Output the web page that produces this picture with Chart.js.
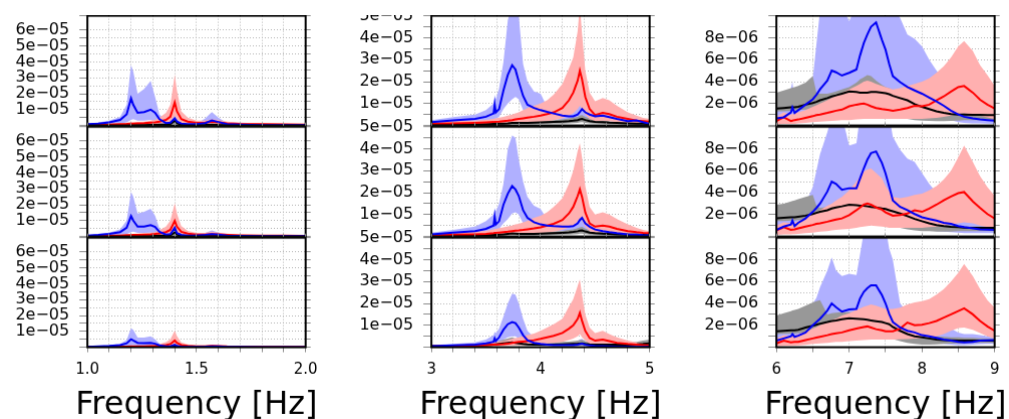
<!DOCTYPE html>
<html>
<head>
<meta charset="utf-8">
<script src="https://cdn.jsdelivr.net/npm/chart.js"></script>
<style>
  html, body { margin: 0; padding: 0; background: #fff; }
  #fig { position: absolute; left: 0; top: 15px; width: 1009px; height: 404px; overflow: hidden; }
  #fig canvas { position: absolute; }
</style>
</head>
<body>
<div id="fig"></div>
<script>
// ---- frequency samples [Hz] for each column ----
const F1 = [1.0, 1.05, 1.1, 1.15, 1.18, 1.2, 1.21, 1.23, 1.26, 1.29, 1.31, 1.33, 1.36, 1.38, 1.4, 1.41, 1.43, 1.46, 1.5, 1.54, 1.57, 1.6, 1.64, 1.7, 1.8, 1.9, 2.0];
const F2 = [3.0, 3.2, 3.4, 3.5, 3.57, 3.58, 3.59, 3.62, 3.66, 3.7, 3.74, 3.77, 3.8, 3.84, 3.88, 3.94, 4.0, 4.06, 4.12, 4.2, 4.26, 4.3, 4.34, 4.36, 4.38, 4.41, 4.45, 4.5, 4.57, 4.63, 4.7, 4.8, 4.88, 4.94, 5.0];
const F3 = [6.0, 6.1, 6.2, 6.22, 6.25, 6.3, 6.4, 6.5, 6.55, 6.6, 6.7, 6.76, 6.82, 6.9, 7.0, 7.1, 7.15, 7.2, 7.25, 7.3, 7.37, 7.45, 7.5, 7.55, 7.6, 7.7, 7.8, 7.9, 8.0, 8.1, 8.2, 8.3, 8.4, 8.5, 8.58, 8.7, 8.8, 8.9, 9.0];

// ---- tick labels ----
const X_LABELS_1 = [1.0, 1.5, 2.0];
const X_LABELS_2 = [3, 4, 5];
const X_LABELS_3 = [6, 7, 8, 9];
const Y_LABELS_1 = [1, 2, 3, 4, 5, 6];   // x 1e-05
const Y_LABELS_2 = [1, 2, 3, 4, 5];      // x 1e-05
const Y_LABELS_3 = [2, 4, 6, 8];         // x 1e-06
const X_TITLE = 'Frequency [Hz]';

// ---- column 1 (values in 1e-05) ----
const C1R1_BLUE    = [0.08,0.12,0.2,0.35,0.7,1.7,1.3,0.8,0.85,1.0,0.8,0.4,0.15,0.18,0.45,0.25,0.12,0.08,0.08,0.15,0.32,0.22,0.08,0.05,0.03,0.03,0.03];
const C1R1_BLUE_HI = [0.12,0.2,0.3,0.55,1.3,3.8,3.4,2.0,2.3,2.8,1.8,0.7,0.25,0.3,0.8,0.45,0.2,0.12,0.12,0.45,0.85,0.5,0.15,0.08,0.05,0.05,0.05];
const C1R1_BLUE_LO = [0.03,0.05,0.08,0.12,0.2,0.35,0.4,0.3,0.3,0.35,0.25,0.12,0.05,0.05,0.12,0.08,0.04,0.03,0.03,0.05,0.1,0.08,0.03,0.02,0.01,0.01,0.01];
const C1R1_RED     = [0.04,0.05,0.06,0.08,0.1,0.12,0.12,0.13,0.15,0.18,0.2,0.25,0.35,0.55,1.45,0.9,0.4,0.25,0.17,0.18,0.25,0.2,0.14,0.1,0.08,0.07,0.06];
const C1R1_RED_HI  = [0.08,0.1,0.12,0.15,0.18,0.2,0.2,0.22,0.25,0.3,0.35,0.5,0.8,1.3,3.2,2.2,0.9,0.5,0.3,0.3,0.4,0.35,0.25,0.18,0.14,0.12,0.1];
const C1R1_RED_LO  = [0.01,0.02,0.02,0.03,0.04,0.05,0.05,0.05,0.06,0.07,0.08,0.1,0.15,0.25,0.6,0.4,0.18,0.1,0.07,0.08,0.1,0.08,0.06,0.04,0.03,0.03,0.02];
const C1R1_BLACK   = [0.01,0.01,0.02,0.02,0.02,0.03,0.03,0.03,0.03,0.04,0.04,0.05,0.06,0.1,0.3,0.15,0.06,0.04,0.03,0.04,0.06,0.04,0.03,0.02,0.02,0.01,0.01];
const C1R1_GRAY_HI = [0.02,0.02,0.03,0.04,0.04,0.05,0.05,0.05,0.05,0.06,0.07,0.08,0.1,0.18,0.55,0.3,0.1,0.06,0.05,0.06,0.1,0.07,0.05,0.04,0.03,0.02,0.02];
const C1R1_GRAY_LO = [0,0,0.01,0.01,0.01,0.01,0.01,0.01,0.01,0.02,0.02,0.02,0.03,0.05,0.12,0.06,0.03,0.02,0.01,0.02,0.03,0.02,0.01,0.01,0.01,0,0];

const C1R2_BLUE    = [0.06,0.1,0.16,0.28,0.55,1.28,1.0,0.62,0.62,0.72,0.6,0.3,0.12,0.15,0.55,0.22,0.1,0.06,0.06,0.1,0.15,0.12,0.06,0.04,0.03,0.02,0.02];
const C1R2_BLUE_HI = [0.1,0.16,0.25,0.45,1.0,2.8,2.5,1.45,1.55,1.75,1.3,0.5,0.2,0.25,0.85,0.4,0.16,0.1,0.1,0.22,0.38,0.25,0.1,0.06,0.04,0.04,0.04];
const C1R2_BLUE_LO = [0.02,0.04,0.06,0.1,0.15,0.28,0.3,0.22,0.22,0.25,0.2,0.1,0.04,0.04,0.15,0.06,0.03,0.02,0.02,0.03,0.05,0.04,0.02,0.01,0.01,0.01,0.01];
const C1R2_RED     = [0.03,0.04,0.05,0.06,0.08,0.09,0.1,0.1,0.12,0.14,0.16,0.2,0.28,0.42,0.98,0.62,0.3,0.18,0.12,0.12,0.15,0.13,0.1,0.07,0.05,0.05,0.04];
const C1R2_RED_HI  = [0.06,0.08,0.1,0.12,0.14,0.16,0.16,0.18,0.2,0.24,0.28,0.4,0.62,1.0,2.1,1.45,0.65,0.35,0.22,0.22,0.3,0.25,0.18,0.12,0.1,0.08,0.07];
const C1R2_RED_LO  = [0.01,0.01,0.02,0.02,0.03,0.03,0.04,0.04,0.05,0.05,0.06,0.08,0.12,0.18,0.4,0.26,0.12,0.07,0.05,0.05,0.06,0.05,0.04,0.03,0.02,0.02,0.02];
const C1R2_BLACK   = [0.01,0.01,0.02,0.02,0.02,0.02,0.03,0.03,0.03,0.03,0.04,0.05,0.05,0.08,0.25,0.12,0.05,0.03,0.03,0.03,0.05,0.04,0.03,0.02,0.01,0.01,0.01];
const C1R2_GRAY_HI = [0.02,0.02,0.03,0.03,0.04,0.04,0.05,0.05,0.05,0.05,0.06,0.07,0.08,0.14,0.45,0.22,0.08,0.05,0.05,0.05,0.08,0.06,0.05,0.03,0.02,0.02,0.02];
const C1R2_GRAY_LO = [0,0,0.01,0.01,0.01,0.01,0.01,0.01,0.01,0.01,0.02,0.02,0.02,0.04,0.1,0.05,0.02,0.01,0.01,0.01,0.02,0.02,0.01,0.01,0,0,0];

const C1R3_BLUE    = [0.03,0.05,0.08,0.14,0.25,0.5,0.42,0.28,0.26,0.28,0.22,0.12,0.05,0.06,0.16,0.08,0.04,0.03,0.03,0.04,0.06,0.05,0.03,0.02,0.01,0.01,0.01];
const C1R3_BLUE_HI = [0.05,0.08,0.12,0.22,0.45,1.2,1.1,0.6,0.6,0.68,0.5,0.22,0.08,0.1,0.3,0.15,0.06,0.05,0.05,0.08,0.14,0.1,0.05,0.03,0.02,0.02,0.02];
const C1R3_BLUE_LO = [0.01,0.02,0.03,0.05,0.08,0.12,0.14,0.1,0.1,0.1,0.08,0.04,0.02,0.02,0.05,0.03,0.01,0.01,0.01,0.01,0.02,0.02,0.01,0.01,0,0,0];
const C1R3_RED     = [0.02,0.02,0.03,0.03,0.04,0.05,0.05,0.05,0.06,0.07,0.08,0.1,0.14,0.2,0.42,0.28,0.14,0.09,0.06,0.06,0.08,0.07,0.05,0.04,0.03,0.03,0.02];
const C1R3_RED_HI  = [0.04,0.05,0.06,0.07,0.08,0.09,0.09,0.1,0.11,0.13,0.15,0.2,0.32,0.5,1.05,0.7,0.3,0.18,0.12,0.12,0.16,0.14,0.1,0.07,0.06,0.05,0.04];
const C1R3_RED_LO  = [0.01,0.01,0.01,0.01,0.02,0.02,0.02,0.02,0.02,0.03,0.03,0.04,0.06,0.08,0.18,0.12,0.06,0.04,0.03,0.03,0.03,0.03,0.02,0.02,0.01,0.01,0.01];
const C1R3_BLACK   = [0.01,0.01,0.01,0.01,0.01,0.02,0.02,0.02,0.02,0.02,0.02,0.03,0.03,0.04,0.1,0.06,0.03,0.02,0.02,0.02,0.02,0.02,0.01,0.01,0.01,0.01,0.01];
const C1R3_GRAY_HI = [0.01,0.02,0.02,0.02,0.02,0.03,0.03,0.03,0.03,0.03,0.03,0.04,0.05,0.07,0.2,0.1,0.05,0.03,0.03,0.03,0.04,0.03,0.02,0.02,0.02,0.02,0.01];
const C1R3_GRAY_LO = [0,0,0,0,0,0.01,0.01,0.01,0.01,0.01,0.01,0.01,0.01,0.02,0.04,0.02,0.01,0.01,0.01,0.01,0.01,0.01,0,0,0,0,0];

// ---- column 2 (values in 1e-05) ----
const C2R1_BLUE    = [0.15,0.23,0.3,0.4,0.55,0.95,0.6,0.75,1.6,2.3,2.75,2.55,2.0,1.35,0.95,0.8,0.7,0.62,0.55,0.45,0.42,0.42,0.5,0.62,0.75,0.6,0.5,0.42,0.45,0.38,0.3,0.2,0.23,0.15,0.08];
const C2R1_BLUE_HI = [0.25,0.38,0.5,0.7,1.0,1.4,1.2,1.7,2.9,4.8,5.5,5.5,5.0,2.8,2.0,1.55,1.45,0.85,0.7,0.6,0.55,0.58,0.9,1.25,1.1,0.75,0.62,0.55,0.6,0.5,0.4,0.3,0.32,0.2,0.15];
const C2R1_BLUE_LO = [0.05,0.1,0.15,0.2,0.25,0.3,0.3,0.4,0.75,1.0,1.2,1.3,1.2,0.7,0.5,0.45,0.4,0.35,0.3,0.25,0.25,0.25,0.3,0.35,0.4,0.35,0.3,0.25,0.25,0.2,0.15,0.1,0.1,0.07,0.03];
const C2R1_RED     = [0.08,0.1,0.12,0.14,0.16,0.17,0.17,0.18,0.2,0.22,0.25,0.28,0.3,0.33,0.36,0.4,0.45,0.52,0.6,0.8,1.15,1.5,2.05,2.5,2.1,1.3,0.75,0.48,0.58,0.52,0.4,0.3,0.22,0.2,0.18];
const C2R1_RED_HI  = [0.15,0.2,0.22,0.26,0.3,0.32,0.33,0.36,0.4,0.45,0.5,0.55,0.6,0.7,0.8,0.9,1.0,1.15,1.4,1.9,2.6,3.1,4.3,5.5,4.2,2.5,1.5,1.1,1.25,1.15,0.9,0.6,0.45,0.35,0.3];
const C2R1_RED_LO  = [0.02,0.03,0.04,0.05,0.06,0.06,0.06,0.07,0.08,0.08,0.09,0.1,0.11,0.12,0.13,0.15,0.17,0.2,0.25,0.32,0.45,0.55,0.75,0.9,0.75,0.5,0.3,0.2,0.22,0.2,0.15,0.1,0.07,0.06,0.05];
const C2R1_BLACK   = [0.03,0.04,0.05,0.06,0.07,0.07,0.07,0.08,0.09,0.1,0.12,0.12,0.12,0.12,0.12,0.13,0.14,0.15,0.16,0.18,0.2,0.22,0.25,0.28,0.3,0.25,0.2,0.17,0.15,0.13,0.12,0.1,0.09,0.08,0.07];
const C2R1_GRAY_HI = [0.05,0.06,0.08,0.09,0.1,0.1,0.1,0.12,0.14,0.16,0.18,0.18,0.18,0.18,0.18,0.2,0.22,0.23,0.25,0.28,0.32,0.36,0.4,0.45,0.48,0.4,0.32,0.26,0.23,0.2,0.18,0.15,0.14,0.12,0.11];
const C2R1_GRAY_LO = [0.01,0.02,0.02,0.03,0.03,0.03,0.03,0.04,0.04,0.05,0.06,0.06,0.06,0.06,0.06,0.06,0.07,0.07,0.08,0.09,0.1,0.11,0.12,0.14,0.15,0.12,0.1,0.08,0.07,0.06,0.06,0.05,0.04,0.04,0.03];

const C2R2_BLUE    = [0.1,0.18,0.25,0.35,0.5,0.9,0.55,0.7,1.45,1.95,2.3,2.15,1.85,1.2,0.85,0.65,0.55,0.5,0.47,0.45,0.45,0.47,0.6,0.75,0.85,0.6,0.45,0.32,0.25,0.2,0.15,0.1,0.08,0.06,0.05];
const C2R2_BLUE_HI = [0.18,0.3,0.45,0.7,1.0,1.3,1.15,1.5,2.4,4.0,4.6,4.5,3.5,2.5,1.8,1.4,1.25,0.8,0.65,0.6,0.58,0.6,0.9,1.25,1.1,0.7,0.55,0.42,0.35,0.28,0.2,0.14,0.12,0.1,0.08];
const C2R2_BLUE_LO = [0.03,0.07,0.1,0.15,0.2,0.25,0.25,0.35,0.6,0.8,1.05,1.1,1.0,0.6,0.4,0.35,0.3,0.28,0.25,0.22,0.22,0.22,0.28,0.35,0.4,0.3,0.22,0.15,0.12,0.1,0.07,0.05,0.04,0.03,0.02];
const C2R2_RED     = [0.05,0.08,0.1,0.12,0.15,0.16,0.16,0.18,0.2,0.22,0.25,0.27,0.28,0.3,0.33,0.37,0.42,0.5,0.58,0.75,1.05,1.35,1.85,2.15,1.8,1.1,0.6,0.45,0.5,0.45,0.35,0.25,0.2,0.17,0.15];
const C2R2_RED_HI  = [0.12,0.18,0.22,0.26,0.32,0.35,0.35,0.38,0.42,0.46,0.5,0.55,0.58,0.65,0.72,0.85,0.95,1.1,1.35,1.75,2.4,3.0,3.9,4.25,3.6,2.3,1.35,1.0,1.1,1.0,0.8,0.55,0.4,0.3,0.25];
const C2R2_RED_LO  = [0.02,0.03,0.04,0.05,0.06,0.06,0.06,0.07,0.08,0.08,0.09,0.1,0.1,0.11,0.12,0.14,0.16,0.19,0.22,0.3,0.42,0.5,0.7,0.85,0.7,0.45,0.25,0.18,0.2,0.18,0.13,0.09,0.07,0.06,0.05];
const C2R2_BLACK   = [0.03,0.04,0.05,0.06,0.07,0.07,0.07,0.08,0.1,0.12,0.14,0.13,0.12,0.12,0.12,0.12,0.13,0.14,0.15,0.17,0.19,0.21,0.24,0.27,0.28,0.23,0.18,0.15,0.13,0.12,0.1,0.09,0.08,0.07,0.06];
const C2R2_GRAY_HI = [0.05,0.06,0.08,0.09,0.1,0.1,0.1,0.12,0.15,0.18,0.22,0.2,0.18,0.18,0.18,0.18,0.2,0.21,0.23,0.26,0.3,0.33,0.38,0.42,0.44,0.36,0.28,0.23,0.2,0.18,0.15,0.14,0.12,0.11,0.1];
const C2R2_GRAY_LO = [0.01,0.02,0.02,0.03,0.03,0.03,0.03,0.04,0.04,0.05,0.06,0.06,0.05,0.05,0.05,0.05,0.06,0.06,0.07,0.08,0.09,0.1,0.11,0.13,0.13,0.11,0.08,0.07,0.06,0.05,0.05,0.04,0.04,0.03,0.03];

const C2R3_BLUE    = [0.05,0.08,0.12,0.18,0.25,0.4,0.28,0.45,0.8,1.05,1.15,1.1,0.9,0.55,0.32,0.2,0.15,0.12,0.1,0.1,0.1,0.1,0.12,0.14,0.16,0.12,0.08,0.06,0.05,0.04,0.03,0.03,0.02,0.02,0.02];
const C2R3_BLUE_HI = [0.1,0.15,0.22,0.35,0.55,0.7,0.65,0.85,1.4,2.0,2.45,2.4,2.0,1.3,0.75,0.45,0.35,0.28,0.22,0.2,0.2,0.22,0.28,0.35,0.38,0.25,0.18,0.12,0.1,0.08,0.06,0.05,0.05,0.04,0.04];
const C2R3_BLUE_LO = [0.02,0.03,0.05,0.07,0.1,0.12,0.12,0.18,0.35,0.45,0.5,0.5,0.4,0.22,0.12,0.08,0.06,0.05,0.04,0.04,0.04,0.04,0.05,0.06,0.06,0.05,0.03,0.02,0.02,0.01,0.01,0.01,0.01,0.01,0.01];
const C2R3_RED     = [0.04,0.06,0.08,0.1,0.12,0.12,0.12,0.13,0.14,0.16,0.2,0.22,0.24,0.26,0.28,0.32,0.38,0.45,0.52,0.65,0.85,1.0,1.3,1.57,1.2,0.75,0.42,0.3,0.35,0.28,0.2,0.15,0.12,0.1,0.08];
const C2R3_RED_HI  = [0.08,0.12,0.15,0.18,0.22,0.24,0.24,0.26,0.28,0.32,0.38,0.42,0.45,0.5,0.55,0.62,0.75,0.9,1.05,1.3,1.85,2.2,2.8,3.1,2.4,1.5,0.9,0.65,0.75,0.6,0.45,0.3,0.22,0.18,0.15];
const C2R3_RED_LO  = [0.01,0.02,0.03,0.04,0.05,0.05,0.05,0.05,0.06,0.06,0.08,0.09,0.1,0.1,0.11,0.13,0.15,0.18,0.2,0.25,0.32,0.4,0.5,0.6,0.45,0.3,0.17,0.12,0.14,0.11,0.08,0.06,0.05,0.04,0.03];
const C2R3_BLACK   = [0.05,0.06,0.08,0.1,0.12,0.13,0.13,0.15,0.18,0.2,0.22,0.2,0.18,0.15,0.13,0.12,0.12,0.12,0.12,0.13,0.14,0.15,0.16,0.17,0.18,0.15,0.13,0.12,0.12,0.12,0.12,0.12,0.13,0.15,0.18];
const C2R3_GRAY_HI = [0.1,0.12,0.15,0.18,0.22,0.24,0.24,0.28,0.35,0.4,0.45,0.4,0.35,0.28,0.24,0.22,0.22,0.22,0.22,0.24,0.26,0.28,0.3,0.32,0.34,0.28,0.24,0.22,0.22,0.22,0.22,0.23,0.25,0.3,0.35];
const C2R3_GRAY_LO = [0.02,0.03,0.04,0.05,0.06,0.06,0.06,0.07,0.08,0.09,0.1,0.09,0.08,0.07,0.06,0.06,0.06,0.06,0.06,0.06,0.07,0.07,0.08,0.08,0.09,0.07,0.06,0.06,0.06,0.06,0.06,0.06,0.06,0.07,0.08];

// ---- column 3 (values in 1e-06) ----
const C3R1_BLUE    = [0.65,0.75,1.2,1.65,1.15,1.4,1.9,2.4,2.8,3.3,4.1,5.0,4.85,4.55,4.8,5.1,6.4,7.5,8.3,9.0,9.4,7.8,6.9,5.6,4.5,3.95,3.5,3.2,2.9,2.55,2.2,1.8,1.35,1.0,0.8,0.65,0.55,0.5,0.45];
const C3R1_BLUE_HI = [1.3,1.5,3.4,4.0,2.0,2.2,2.8,4.3,7.4,10.5,11,11,11,11,9.5,11,11,11,11,11,11,11,11,11,11,9.8,8.3,7.9,7.2,6.0,5.0,4.2,3.8,3.2,2.8,2.3,1.9,1.5,1.2];
const C3R1_BLUE_LO = [0.2,0.25,0.35,0.4,0.4,0.45,0.5,0.6,0.7,0.8,0.9,1.0,1.1,1.15,1.2,1.3,1.35,1.4,1.45,1.5,1.5,1.4,1.35,1.3,1.2,1.1,1.0,0.95,0.9,0.8,0.7,0.6,0.5,0.3,0.25,0.2,0.2,0.18,0.15];
const C3R1_RED     = [0.4,0.75,0.4,0.45,0.5,0.55,0.7,0.85,0.95,1.0,1.15,1.25,1.35,1.45,1.75,1.9,1.95,2.0,1.9,1.75,1.6,1.5,1.45,1.4,1.35,1.45,1.6,1.8,1.75,1.9,2.3,2.65,3.1,3.5,3.6,3.0,2.35,1.9,1.55];
const C3R1_RED_HI  = [0.8,1.2,1.0,1.05,1.1,1.2,1.4,1.7,1.85,2.0,2.3,2.5,2.7,3.0,3.3,3.6,3.8,4.0,4.1,4.0,3.8,3.6,3.5,3.4,3.3,3.4,3.6,3.8,4.0,4.3,4.8,5.4,6.2,7.2,7.7,6.8,5.5,4.6,3.6];
const C3R1_RED_LO  = [0.1,0.15,0.15,0.15,0.15,0.2,0.25,0.3,0.32,0.35,0.4,0.42,0.45,0.48,0.5,0.55,0.58,0.6,0.6,0.6,0.6,0.6,0.6,0.6,0.6,0.6,0.6,0.6,0.6,0.65,0.7,0.8,0.9,1.05,1.1,1.0,0.9,0.75,0.6];
const C3R1_BLACK   = [1.55,1.6,1.65,1.65,1.67,1.7,1.9,2.05,2.15,2.3,2.5,2.65,2.75,2.9,3.1,3.05,3.0,3.0,3.0,3.05,3.05,3.0,2.95,2.85,2.7,2.5,2.3,1.95,1.7,1.5,1.3,1.15,1.05,1.0,1.0,0.98,0.97,0.96,0.95];
const C3R1_GRAY_HI = [3.0,3.2,3.4,3.45,3.5,3.6,3.9,4.5,3.0,2.9,2.9,3.0,3.1,3.3,3.5,3.9,4.2,4.4,4.6,4.5,4.1,3.7,3.5,3.4,3.2,3.0,2.7,2.4,2.1,1.8,1.6,1.4,1.3,1.2,1.15,1.1,1.05,1.0,1.0];
const C3R1_GRAY_LO = [1.3,1.3,1.35,1.35,1.35,1.4,1.45,1.5,1.55,1.6,1.65,1.7,1.7,1.7,1.65,1.6,1.55,1.5,1.45,1.4,1.3,1.2,1.1,1.0,0.9,0.75,0.6,0.5,0.45,0.42,0.4,0.4,0.42,0.45,0.48,0.5,0.5,0.5,0.5];

const C3R2_BLUE    = [0.6,0.9,1.1,1.45,0.95,1.25,1.65,2.25,2.6,3.0,4.1,5.0,4.8,4.25,4.4,4.4,5.3,6.2,7.0,7.6,7.75,6.7,5.75,4.55,3.3,2.7,2.4,2.05,1.75,1.6,1.45,1.25,1.15,0.95,0.85,0.75,0.65,0.62,0.6];
const C3R2_BLUE_HI = [2.2,2.4,2.7,3.0,2.6,2.7,3.0,4.5,6.0,7.5,9.5,11,11,11,8.3,8.5,11,11,11,11,11,11,11,11,9.1,7.9,7.1,6.8,5.8,4.8,4.0,3.4,2.9,2.4,2.0,1.6,1.3,1.1,1.0];
const C3R2_BLUE_LO = [0.2,0.25,0.3,0.35,0.35,0.4,0.5,0.6,0.7,0.8,0.9,1.0,1.05,1.1,1.15,1.2,1.25,1.3,1.35,1.4,1.4,1.3,1.25,1.2,1.1,1.0,0.9,0.8,0.7,0.6,0.5,0.45,0.4,0.35,0.3,0.3,0.3,0.3,0.3];
const C3R2_RED     = [0.55,0.85,0.6,0.62,0.65,0.75,0.9,1.05,1.15,1.2,1.35,1.45,1.55,1.65,1.95,2.4,2.65,2.9,3.0,2.9,2.65,2.45,2.2,2.05,1.9,1.95,2.1,2.4,2.25,2.55,2.9,3.3,3.65,3.95,4.05,3.2,2.6,2.05,1.65];
const C3R2_RED_HI  = [1.0,1.3,1.2,1.25,1.3,1.4,1.7,2.0,2.2,2.4,2.8,3.0,3.3,3.6,4.2,5.0,5.5,5.9,6.1,6.2,5.8,5.3,4.6,4.1,3.6,3.5,3.6,3.8,3.9,4.2,4.6,5.2,6.0,7.2,8.3,6.8,5.5,4.5,3.7];
const C3R2_RED_LO  = [0.15,0.2,0.2,0.22,0.22,0.25,0.3,0.35,0.4,0.45,0.5,0.55,0.6,0.65,0.7,0.8,0.85,0.9,0.95,1.0,0.95,0.9,0.85,0.8,0.8,0.8,0.8,0.8,0.8,0.85,0.9,1.0,1.1,1.2,1.3,1.2,1.0,0.85,0.7];
const C3R2_BLACK   = [1.65,1.7,1.75,1.75,1.75,1.8,1.9,2.05,2.15,2.25,2.4,2.55,2.65,2.75,2.9,2.85,2.8,2.8,2.75,2.7,2.65,2.55,2.5,2.4,2.3,2.1,1.85,1.6,1.4,1.2,1.05,0.95,0.88,0.85,0.82,0.8,0.8,0.8,0.8];
const C3R2_GRAY_HI = [2.9,3.0,3.2,3.25,3.3,3.4,3.6,3.8,2.8,2.6,2.7,2.85,2.95,3.05,3.2,3.3,3.3,3.3,3.2,3.1,3.0,2.9,2.8,2.7,2.6,2.4,2.1,1.8,1.5,1.3,1.15,1.05,1.0,0.95,0.92,0.9,0.9,0.9,0.9];
const C3R2_GRAY_LO = [1.4,1.4,1.45,1.45,1.45,1.5,1.55,1.6,1.65,1.7,1.75,1.8,1.8,1.8,1.75,1.7,1.65,1.6,1.55,1.45,1.35,1.25,1.15,1.05,0.95,0.8,0.65,0.55,0.5,0.48,0.45,0.45,0.45,0.48,0.5,0.5,0.5,0.5,0.5];

const C3R3_BLUE    = [0.6,0.8,1.0,1.2,0.95,1.05,1.35,2.0,2.3,2.6,3.35,4.0,3.65,3.25,3.45,3.5,4.45,5.05,5.4,5.65,5.65,4.75,4.0,3.05,2.3,1.8,1.5,1.35,1.1,1.0,0.85,0.7,0.6,0.5,0.45,0.5,0.6,0.62,0.65];
const C3R3_BLUE_HI = [2.0,2.2,2.4,2.6,2.5,2.6,3.0,4.0,4.5,5.5,7.0,8.2,7.0,6.5,6.7,6.6,8.5,10.5,11,11,11,11,11,9.0,8.0,4.0,3.2,2.8,2.5,2.3,2.1,1.9,1.7,1.35,1.2,1.2,1.1,1.0,0.9];
const C3R3_BLUE_LO = [0.2,0.25,0.3,0.35,0.35,0.4,0.5,0.6,0.65,0.7,0.8,0.85,0.88,0.9,0.9,0.95,1.0,1.05,1.1,1.1,1.1,1.0,0.95,0.9,0.8,0.7,0.6,0.55,0.5,0.4,0.35,0.3,0.25,0.2,0.2,0.25,0.28,0.3,0.3];
const C3R3_RED     = [0.35,0.6,0.45,0.47,0.48,0.5,0.65,0.8,0.88,0.95,1.1,1.2,1.28,1.35,1.55,1.7,1.78,1.85,1.9,1.8,1.65,1.55,1.45,1.45,1.45,1.7,2.25,2.0,2.05,2.2,2.4,2.7,3.0,3.3,3.55,3.0,2.4,1.9,1.5];
const C3R3_RED_HI  = [0.8,1.1,1.0,1.05,1.1,1.2,1.4,1.7,1.85,2.0,2.3,2.5,2.6,2.9,3.1,3.4,3.55,3.7,3.8,3.9,3.8,3.6,3.5,3.5,3.5,3.6,3.9,4.1,4.2,4.4,4.8,5.3,6.0,6.8,7.6,6.5,5.3,4.3,3.6];
const C3R3_RED_LO  = [0.1,0.12,0.15,0.15,0.15,0.18,0.22,0.3,0.32,0.35,0.4,0.45,0.48,0.5,0.55,0.6,0.62,0.65,0.68,0.7,0.7,0.7,0.7,0.7,0.7,0.72,0.75,0.78,0.8,0.9,1.0,1.2,1.5,1.75,1.8,1.6,1.3,1.0,0.8];
const C3R3_BLACK   = [1.45,1.5,1.55,1.55,1.55,1.6,1.8,1.95,2.05,2.15,2.3,2.4,2.45,2.55,2.65,2.6,2.58,2.55,2.5,2.45,2.38,2.3,2.2,2.1,1.85,1.5,1.2,1.0,0.9,0.8,0.7,0.65,0.62,0.6,0.6,0.6,0.6,0.6,0.6];
const C3R3_GRAY_HI = [2.9,3.1,3.3,3.35,3.4,3.5,3.8,4.1,4.2,4.3,3.0,3.1,3.15,3.2,3.2,3.2,3.15,3.1,3.05,3.0,2.9,2.8,2.7,2.6,2.5,2.2,1.8,1.5,1.3,1.1,1.0,0.95,0.9,0.9,0.85,0.85,0.82,0.8,0.8];
const C3R3_GRAY_LO = [1.2,1.22,1.25,1.25,1.25,1.3,1.35,1.4,1.42,1.45,1.5,1.5,1.5,1.5,1.5,1.45,1.4,1.35,1.3,1.2,1.1,1.05,1.0,0.9,0.75,0.55,0.4,0.3,0.25,0.25,0.27,0.3,0.32,0.35,0.38,0.4,0.4,0.4,0.4];

// ---- styling ----
const BLUE = '#0000f5';
const RED = '#ff0000';
const BLUE_BAND = 'rgb(176,176,255)';
const RED_BAND = 'rgb(255,176,176)';
const GRAY_BAND = 'rgb(152,152,152)';
const GRID = '#b4b4b4';
const TICK = '#8c8c8c';

const FIG_TOP = 15;
const PLOT_W = 216;
const PLOT_H = 109;
const COL_LEFT = [87, 431, 776];
const ROW_TOP = [16, 127, 238];

Chart.defaults.font.family = 'DejaVu Sans';
Chart.defaults.color = '#000';

const COLS = [
  { freq: F1, xMin: 1, xMax: 2, xStep: 0.1, xLabels: X_LABELS_1, xFmt: v => v.toFixed(1), yMax: 6.9, yStep: 0.5, yLabels: Y_LABELS_1, exp: '05' },
  { freq: F2, xMin: 3, xMax: 5, xStep: 0.2, xLabels: X_LABELS_2, xFmt: v => String(v), yMax: 5.0, yStep: 0.5, yLabels: Y_LABELS_2, exp: '05' },
  { freq: F3, xMin: 6, xMax: 9, xStep: 0.5, xLabels: X_LABELS_3, xFmt: v => String(v), yMax: 10, yStep: 1, yLabels: Y_LABELS_3, exp: '06' }
];

const PANELS = [
  [
    { blue: C1R1_BLUE, blueHi: C1R1_BLUE_HI, blueLo: C1R1_BLUE_LO, red: C1R1_RED, redHi: C1R1_RED_HI, redLo: C1R1_RED_LO, black: C1R1_BLACK, grayHi: C1R1_GRAY_HI, grayLo: C1R1_GRAY_LO },
    { blue: C1R2_BLUE, blueHi: C1R2_BLUE_HI, blueLo: C1R2_BLUE_LO, red: C1R2_RED, redHi: C1R2_RED_HI, redLo: C1R2_RED_LO, black: C1R2_BLACK, grayHi: C1R2_GRAY_HI, grayLo: C1R2_GRAY_LO },
    { blue: C1R3_BLUE, blueHi: C1R3_BLUE_HI, blueLo: C1R3_BLUE_LO, red: C1R3_RED, redHi: C1R3_RED_HI, redLo: C1R3_RED_LO, black: C1R3_BLACK, grayHi: C1R3_GRAY_HI, grayLo: C1R3_GRAY_LO }
  ],
  [
    { blue: C2R1_BLUE, blueHi: C2R1_BLUE_HI, blueLo: C2R1_BLUE_LO, red: C2R1_RED, redHi: C2R1_RED_HI, redLo: C2R1_RED_LO, black: C2R1_BLACK, grayHi: C2R1_GRAY_HI, grayLo: C2R1_GRAY_LO },
    { blue: C2R2_BLUE, blueHi: C2R2_BLUE_HI, blueLo: C2R2_BLUE_LO, red: C2R2_RED, redHi: C2R2_RED_HI, redLo: C2R2_RED_LO, black: C2R2_BLACK, grayHi: C2R2_GRAY_HI, grayLo: C2R2_GRAY_LO },
    { blue: C2R3_BLUE, blueHi: C2R3_BLUE_HI, blueLo: C2R3_BLUE_LO, red: C2R3_RED, redHi: C2R3_RED_HI, redLo: C2R3_RED_LO, black: C2R3_BLACK, grayHi: C2R3_GRAY_HI, grayLo: C2R3_GRAY_LO }
  ],
  [
    { blue: C3R1_BLUE, blueHi: C3R1_BLUE_HI, blueLo: C3R1_BLUE_LO, red: C3R1_RED, redHi: C3R1_RED_HI, redLo: C3R1_RED_LO, black: C3R1_BLACK, grayHi: C3R1_GRAY_HI, grayLo: C3R1_GRAY_LO },
    { blue: C3R2_BLUE, blueHi: C3R2_BLUE_HI, blueLo: C3R2_BLUE_LO, red: C3R2_RED, redHi: C3R2_RED_HI, redLo: C3R2_RED_LO, black: C3R2_BLACK, grayHi: C3R2_GRAY_HI, grayLo: C3R2_GRAY_LO },
    { blue: C3R3_BLUE, blueHi: C3R3_BLUE_HI, blueLo: C3R3_BLUE_LO, red: C3R3_RED, redHi: C3R3_RED_HI, redLo: C3R3_RED_LO, black: C3R3_BLACK, grayHi: C3R3_GRAY_HI, grayLo: C3R3_GRAY_LO }
  ]
];

// black box around each plot area
const framePlugin = {
  id: 'frame',
  afterDatasetsDraw(chart) {
    const { ctx, chartArea: a } = chart;
    ctx.save();
    ctx.strokeStyle = '#000';
    ctx.lineWidth = 2;
    ctx.strokeRect(a.left, a.top, a.right - a.left, a.bottom - a.top);
    ctx.restore();
  }
};

// axis title under the bottom panels; drawn here so it is not squeezed to the plot width
const xTitlePlugin = {
  id: 'xTitle',
  afterDraw(chart, args, opts) {
    if (!opts.text) return;
    const { ctx, chartArea: a } = chart;
    ctx.save();
    ctx.font = '32px "DejaVu Sans"';
    ctx.fillStyle = '#000';
    ctx.textAlign = 'center';
    ctx.textBaseline = 'alphabetic';
    ctx.fillText(opts.text, (a.left + a.right) / 2, a.bottom + opts.offset);
    ctx.restore();
  }
};

// label only the listed values, keep the other grid lines
const onlyLabels = (labels, fmt) => v => labels.some(l => Math.abs(l - v) < 1e-9) ? fmt(v) : '';

function makePanel(col, row) {
  const c = COLS[col];
  const p = PANELS[col][row];
  const isBottom = row === 2;

  const canvas = document.createElement('canvas');
  canvas.width = 360;
  canvas.height = isBottom ? 240 : 160;
  document.getElementById('fig').appendChild(canvas);

  const pts = arr => c.freq.map((x, i) => ({ x, y: arr[i] }));
  const edge = (arr, order) => ({ data: pts(arr), borderColor: 'rgba(0,0,0,0)', borderWidth: 0, pointRadius: 0, fill: false, order });
  const band = (lo, hi, color, order) => [edge(lo, order), Object.assign(edge(hi, order), { fill: '-1', backgroundColor: color })];
  const line = (arr, color, order) => ({ data: pts(arr), borderColor: color, borderWidth: 2, pointRadius: 0, fill: false, order });

  const chart = new Chart(canvas, {
    type: 'line',
    data: {
      datasets: [
        ...band(p.blueLo, p.blueHi, BLUE_BAND, 6),
        ...band(p.grayLo, p.grayHi, GRAY_BAND, 5),
        ...band(p.redLo, p.redHi, RED_BAND, 4),
        line(p.black, '#000', 3),
        line(p.red, RED, 2),
        line(p.blue, BLUE, 1)
      ]
    },
    options: {
      responsive: false,
      maintainAspectRatio: false,
      animation: false,
      events: [],
      layout: { padding: { left: 0, right: 20, top: 0, bottom: isBottom ? 48 : 0 } },
      plugins: {
        legend: { display: false },
        tooltip: { enabled: false },
        xTitle: { text: isBottom ? X_TITLE : '', offset: 66 }
      },
      scales: {
        x: {
          type: 'linear', min: c.xMin, max: c.xMax,
          ticks: { stepSize: c.xStep, display: isBottom, autoSkip: false, maxRotation: 0, padding: 9,
                   font: { family: 'DejaVu Sans', size: 15 }, callback: onlyLabels(c.xLabels, c.xFmt) },
          grid: { color: GRID, drawTicks: isBottom, tickLength: 5, tickColor: TICK },
          border: { display: false, dash: [1, 2] }
        },
        xTop: {
          axis: 'x', type: 'linear', position: 'top', min: c.xMin, max: c.xMax,
          ticks: { stepSize: c.xStep, display: false },
          grid: { drawOnChartArea: false, tickLength: 4, tickColor: TICK },
          border: { display: false }
        },
        y: {
          type: 'linear', min: 0, max: c.yMax,
          ticks: { stepSize: c.yStep, autoSkip: false, padding: 10,
                   font: { family: 'DejaVu Sans', size: 16 }, callback: onlyLabels(c.yLabels, v => v + 'e\u2212' + c.exp) },
          grid: { color: GRID, tickLength: 8, tickColor: TICK },
          border: { display: false, dash: [1, 2] }
        },
        yRight: {
          axis: 'y', type: 'linear', position: 'right', min: 0, max: c.yMax,
          ticks: { stepSize: c.yStep, display: false },
          grid: { drawOnChartArea: false, tickLength: 5, tickColor: TICK },
          border: { display: false }
        }
      }
    },
    plugins: [framePlugin, xTitlePlugin]
  });

  // size the canvas so the plot area is PLOT_W x PLOT_H, then move it into place
  for (let k = 0; k < 2; k++) {
    const a = chart.chartArea;
    chart.resize(chart.width + PLOT_W - (a.right - a.left), chart.height + PLOT_H - (a.bottom - a.top));
  }
  const a = chart.chartArea;
  canvas.style.left = (COL_LEFT[col] - a.left) + 'px';
  canvas.style.top = (ROW_TOP[row] - FIG_TOP - a.top) + 'px';
}

for (let col = 0; col < 3; col++) {
  for (let row = 0; row < 3; row++) makePanel(col, row);
}
</script>
</body>
</html>
